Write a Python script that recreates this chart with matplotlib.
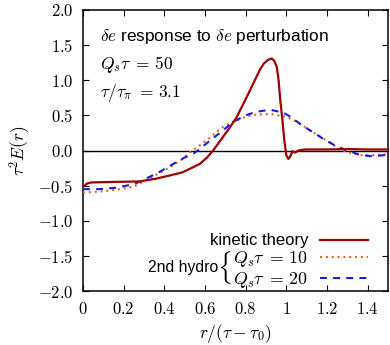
import matplotlib
matplotlib.use("Agg")
import matplotlib.pyplot as plt
import numpy as np

plt.rcParams['font.family'] = ['Liberation Sans', 'DejaVu Sans']
plt.rcParams['mathtext.fontset'] = 'cm'

# kinetic theory
x_kin = [0.0, 0.02, 0.04, 0.1, 0.2, 0.28, 0.36, 0.42, 0.49, 0.54, 0.575, 0.61, 0.64, 0.68, 0.72,
         0.755, 0.81, 0.84, 0.87, 0.89, 0.91, 0.928, 0.94, 0.953, 0.962, 0.97, 0.98, 0.99, 1.0,
         1.01, 1.02, 1.03, 1.043, 1.06, 1.08, 1.1, 1.2, 1.3, 1.4, 1.5]
y_kin = [-0.52, -0.47, -0.455, -0.45, -0.445, -0.44, -0.40, -0.36, -0.31, -0.24, -0.19, -0.10, 0.0, 0.16, 0.32,
         0.47, 0.79, 0.97, 1.15, 1.24, 1.29, 1.31, 1.28, 1.19, 1.0, 0.72, 0.45, 0.15, -0.07,
         -0.12, -0.08, -0.01, -0.03, 0.0, 0.01, 0.015, 0.015, 0.02, 0.015, 0.015]

# 2nd order hydro, Q_s tau = 10
x_h10 = [0.0, 0.08, 0.16, 0.25, 0.35, 0.42, 0.49, 0.52, 0.61, 0.69, 0.74, 0.8, 0.85, 0.92, 1.0,
         1.05, 1.13, 1.2, 1.26, 1.32, 1.38, 1.44, 1.5]
y_h10 = [-0.60, -0.585, -0.56, -0.515, -0.36, -0.25, -0.12, -0.04, 0.15, 0.34, 0.41, 0.48, 0.51, 0.52, 0.48,
         0.41, 0.26, 0.14, 0.02, -0.04, -0.07, -0.065, -0.055]

# 2nd order hydro, Q_s tau = 20
x_h20 = [0.0, 0.08, 0.16, 0.25, 0.31, 0.38, 0.445, 0.5, 0.54, 0.56, 0.62, 0.69, 0.74, 0.8, 0.85, 0.92,
         0.985, 1.02, 1.067, 1.12, 1.18, 1.24, 1.3, 1.36, 1.41, 1.45, 1.5]
y_h20 = [-0.55, -0.55, -0.53, -0.48, -0.40, -0.30, -0.19, -0.10, -0.05, -0.01, 0.13, 0.29, 0.41, 0.50, 0.55, 0.58,
         0.54, 0.48, 0.38, 0.28, 0.17, 0.07, 0.0, -0.06, -0.08, -0.075, -0.06]

xticks = [0, 0.2, 0.4, 0.6, 0.8, 1.0, 1.2, 1.4]
xticklabels = ['$0$', '$0.2$', '$0.4$', '$0.6$', '$0.8$', '$1$', '$1.2$', '$1.4$']
yticks = [-2.0, -1.5, -1.0, -0.5, 0.0, 0.5, 1.0, 1.5, 2.0]
yticklabels = ['$-2.0$', '$-1.5$', '$-1.0$', '$-0.5$', '$0.0$', '$0.5$', '$1.0$', '$1.5$', '$2.0$']

fig = plt.figure(figsize=(3.9, 3.45), dpi=100)
ax = fig.add_axes([83/390, 1 - 291/345, 305/390, 281/345])

ax.axhline(0, color='black', lw=1.0, zorder=1)
ax.plot(x_kin, y_kin, color='#a00000', lw=1.6, label='kinetic theory', zorder=4)
ax.plot(x_h10, y_h10, color='#e06a20', lw=1.5, ls=(0, (1.0, 1.8)),
        label=r'${Q_s\tau}\;{=}\,{10}$', zorder=3)
ax.plot(x_h20, y_h20, color='#1a1ae6', lw=1.5, ls=(0, (3.3, 3.0)),
        label=r'${Q_s\tau}\;{=}\,{20}$', zorder=3)

ax.set_xlim(0, 1.5)
ax.set_ylim(-2.0, 2.0)
ax.set_xticks(xticks)
ax.set_xticklabels(xticklabels)
ax.set_yticks(yticks)
ax.set_yticklabels(yticklabels)
ax.tick_params(direction='in', length=4, width=0.8, top=True, right=True, labelsize=12, pad=7)
for s in ax.spines.values():
    s.set_linewidth(1.1)

ax.set_xlabel(r'$r/(\tau-\tau_0)$', fontsize=12.5, labelpad=4)
ax.set_ylabel(r'$\tau^2 E(r)$', fontsize=12.5, labelpad=4)

ax.text(0.055, 0.905, r'$\delta e$ response to $\delta e$ perturbation', transform=ax.transAxes,
        fontsize=12.4, va='center', ha='left')
ax.text(0.055, 0.805, r'${Q_s\tau}\;{=}\,{50}$', transform=ax.transAxes, fontsize=12.5, va='center', ha='left')
ax.text(0.055, 0.705, r'${\tau/\tau_\pi}\;{=}\,{3.1}$', transform=ax.transAxes, fontsize=12.5, va='center', ha='left')

leg = ax.legend(loc='center right', bbox_to_anchor=(0.935, 0.104), frameon=False, markerfirst=False,
                fontsize=12, handlelength=2.9, handletextpad=0.7, labelspacing=0.05,
                borderpad=0, borderaxespad=0)
texts = leg.get_texts()
texts[1].set_fontsize(12.8)
texts[2].set_fontsize(12.8)

ax.text(0.443, 0.082, '2nd hydro', transform=ax.transAxes, fontsize=11.3, va='center', ha='right')
ax.text(0.462, 0.084, r'$\{$', transform=ax.transAxes, fontsize=19, va='center', ha='center')

fig.savefig('out.png', dpi=100)
